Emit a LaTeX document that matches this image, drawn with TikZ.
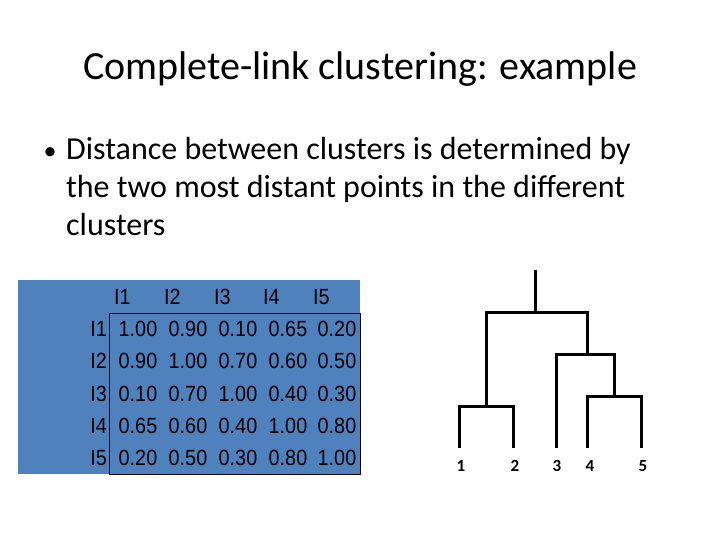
\documentclass[tikz,border=0pt]{standalone}
\usepackage{fontspec}
\setmainfont{Carlito}
\newfontfamily\arial{Liberation Sans}
\definecolor{tblue}{RGB}{79,129,189}
\begin{document}
\begin{tikzpicture}[x=1pt,y=-1pt,
  cell/.style={font=\arial\fontsize{22}{22}\selectfont,inner sep=0pt,anchor=center,xscale=0.9},
  rowlab/.style={font=\arial\fontsize{22}{22}\selectfont,inner sep=0pt,anchor=east,xscale=0.9},
  collab/.style={font=\arial\fontsize{22}{22}\selectfont,inner sep=0pt,anchor=west,xscale=0.9},
  body/.style={font=\fontsize{32}{36}\selectfont,inner sep=0pt,anchor=base west},
  den/.style={line width=3pt},
  leaf/.style={font=\fontsize{17}{17}\selectfont\bfseries,inner sep=0pt}]
\useasboundingbox (0,0) rectangle (720,540);
\node[font=\fontsize{40}{44}\selectfont,inner sep=0pt,anchor=base] (title) at (360,80) {Complete-link clustering: example};
\node[inner sep=0pt,font=\fontsize{26}{26}\selectfont,anchor=base] (bul) at (50,160) {•};
\node[body] (l1) at (66,160) {Distance between clusters is determined by};
\node[body] (l2) at (66,198) {the two most distant points in the different};
\node[body] (l3) at (66,236) {clusters};
% table
\fill[tblue] (18,280) rectangle (360,474);
\draw[line width=0.8pt] (109,313) rectangle (360,474);
\foreach \c/\x in {1/114,2/164,3/214,4/263,5/313}
  \node[collab] (c\c) at (\x,297) {I\c};
\foreach \r/\y in {1/329,2/361,3/394,4/426,5/458}
  \node[rowlab] (r\r) at (107,\y) {I\r};
\foreach \r/\y/\a/\b/\c/\d/\e in {1/329/1.00/0.90/0.10/0.65/0.20,2/361/0.90/1.00/0.70/0.60/0.50,3/394/0.10/0.70/1.00/0.40/0.30,4/426/0.65/0.60/0.40/1.00/0.80,5/458/0.20/0.50/0.30/0.80/1.00}{
  \node[cell] (v\r a) at (138,\y) {\a};
  \node[cell] (v\r b) at (188,\y) {\b};
  \node[cell] (v\r c) at (238,\y) {\c};
  \node[cell] (v\r d) at (288,\y) {\d};
  \node[cell] (v\r e) at (337,\y) {\e};
}
% dendrogram
\coordinate (p1) at (459,448); \coordinate (p2) at (513,448);
\coordinate (p3) at (556,448); \coordinate (p4) at (587,448);
\coordinate (p5) at (641,448); \coordinate (top) at (535,270);
\draw[den] (p1) |- (486,406) -| (p2);
\draw[den] (p4) |- (614,396) -| (p5);
\draw[den] (p3) |- (587,354) -| (614,396);
\draw[den] (486,406) |- (535,312) -| (587,354);
\draw[den] (535,312) -- (top);
\foreach \i/\x in {1/461,2/515,3/557,4/590,5/643}
  \node[leaf] (n\i) at (\x,466) {\i};
\end{tikzpicture}
\end{document}
